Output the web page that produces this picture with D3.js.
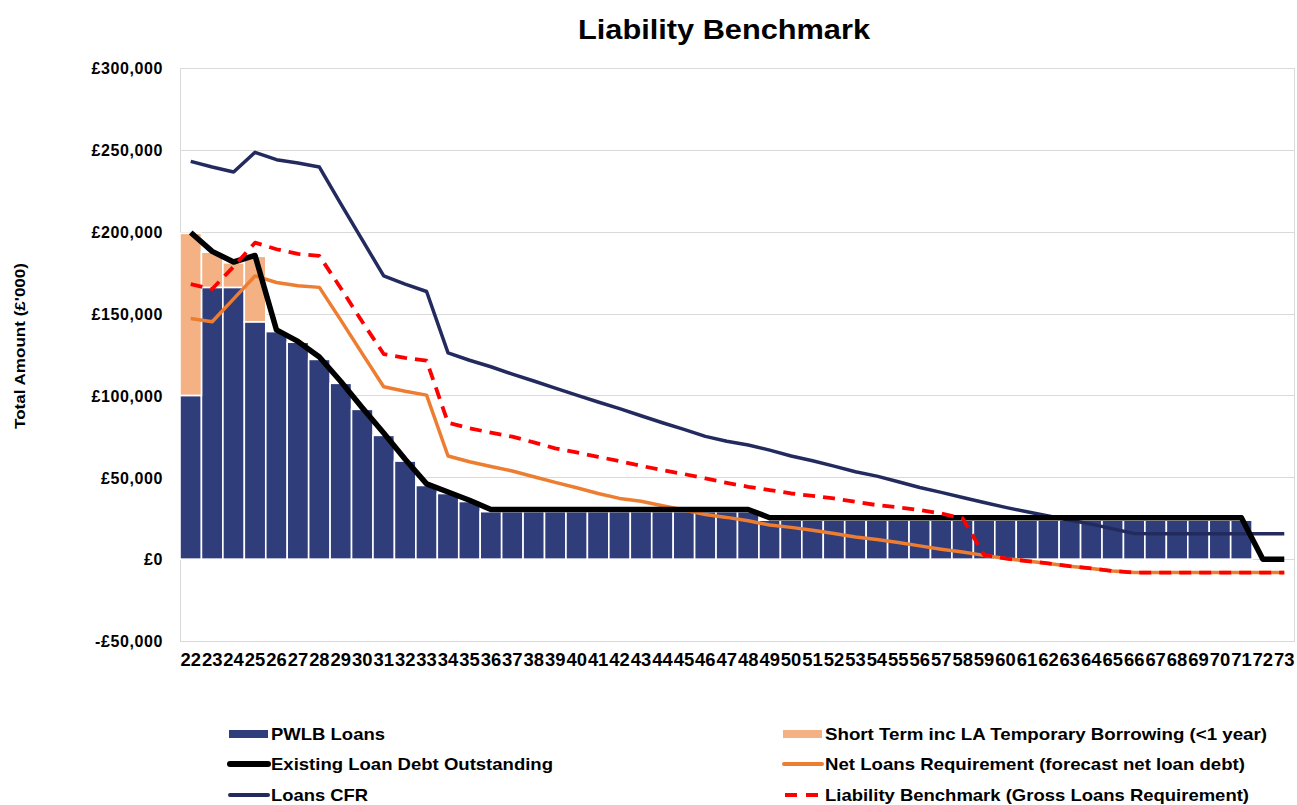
<!DOCTYPE html>
<html>
<head>
<meta charset="utf-8">
<script src="https://cdnjs.cloudflare.com/ajax/libs/d3/7.8.5/d3.min.js"></script>
<style>
  body { margin: 0; background: #fff; }
  svg text { font-family: "Liberation Sans", Arial, sans-serif; font-weight: bold; fill: #000; }
</style>
</head>
<body>
<svg id="chart" width="1297" height="805"></svg>
<script>
// categories (financial years)
var years = ['22','23','24','25','26','27','28','29','30','31','32','33','34','35','36','37','38','39','40','41','42','43','44','45','46','47',
  '48','49','50','51','52','53','54','55','56','57','58','59','60','61','62','63','64','65','66','67','68','69','70','71','72','73'];

// bars (£'000)
var pwlbLoans = [100000,166000,166000,145000,139000,132500,122000,107400,91500,75600,59900,45000,40100,35200,29000,29000,29000,29000,29000,29000,
  29000,29000,29000,29000,29000,29000,29000,23800,23800,23800,23800,23800,23800,23800,23800,23800,23800,23800,23800,23800,23800,23800,23800,
  23800,23800,23800,23800,23800,23800,23800,0,0];
var shortTerm = [99000,21500,15000,40000,0,0,0,0,0,0,0,0,0,0,0,0,0,0,0,0,0,0,0,0,0,0,0,0,0,0,0,0,0,0,0,0,0,0,0,0,0,0,0,0,0,0,0,0,0,0,0,0];

// lines (£'000)
var existingDebt = [199500,188000,181500,185500,140000,133000,123500,108500,92500,77000,61000,46000,41000,36000,30300,30300,30300,30300,30300,
  30300,30300,30300,30300,30300,30300,30300,30300,25300,25300,25300,25300,25300,25300,25300,25300,25300,25300,25300,25300,25300,25300,25300,
  25300,25300,25300,25300,25300,25300,25300,25300,0,0];
var netLoans = [147000,145000,159000,173000,169000,167000,166000,146000,125500,105300,102500,100200,63000,59500,56600,53800,50300,46900,43600,
  40100,37100,35400,32600,30000,27300,25500,23400,20800,19400,17700,15700,13500,12000,10200,8100,6100,4300,2300,400,-1200,-2600,-4300,-5700,
  -7200,-8200,-8200,-8200,-8200,-8200,-8200,-8200,-8200];
var loansCFR = [243000,239500,236500,248500,244000,242000,239500,217000,195000,173000,168000,163500,126000,121500,117500,113000,108800,104500,
  100200,96000,91900,87600,83300,79300,75000,72000,69700,66600,63000,60100,56800,53400,50700,47300,43800,40800,37700,34600,31600,28900,26300,
  23800,21400,18500,15700,15500,15500,15500,15500,15500,15500,15500];
var liabilityBenchmark = [168000,165000,178700,193300,189300,186400,185200,165500,145000,125300,123000,121200,83300,79900,77300,74800,71300,
  67700,65200,62500,59900,57000,54400,52000,49300,46600,44200,42200,40100,38700,37100,35000,33000,31600,30000,27900,24900,2500,400,-1200,
  -2600,-4300,-5700,-7200,-8200,-8200,-8200,-8200,-8200,-8200,-8200,-8200];

var yTicks = [-50000, 0, 50000, 100000, 150000, 200000, 250000, 300000];

var svg = d3.select('#chart'),
  plotL = 180, plotR = 1295, plotT = 68, plotB = 641;

var x = d3.scaleBand().domain(years).range([plotL, plotR]).padding(0);
var y = d3.scaleLinear().domain([-50000, 300000]).range([plotB, plotT]);
var fmt = function (v) { return (v < 0 ? '-£' : '£') + d3.format(',')(Math.abs(v)); };

// title
svg.append('text').attr('x', 724).attr('y', 39).attr('text-anchor', 'middle')
  .style('font-size', '28px').attr('textLength', 292).attr('lengthAdjust', 'spacingAndGlyphs')
  .text('Liability Benchmark');

// gridlines + frame
svg.append('g').selectAll('line').data(yTicks).join('line')
  .attr('x1', plotL).attr('x2', plotR).attr('y1', function (d) { return Math.round(y(d)) + 0.5; }).attr('y2', function (d) { return Math.round(y(d)) + 0.5; })
  .attr('stroke', '#d9d9d9').attr('stroke-width', 1);
svg.append('rect').attr('x', plotL + 0.5).attr('y', plotT + 0.5).attr('width', plotR - plotL - 1).attr('height', plotB - plotT)
  .attr('fill', 'none').attr('stroke', '#d9d9d9');

// y axis
var yAxis = svg.append('g').attr('transform', 'translate(163,0)')
  .call(d3.axisLeft(y).tickValues(yTicks).tickFormat(fmt).tickSize(0).tickPadding(0));
yAxis.select('.domain').remove();
yAxis.selectAll('text').style('font-size', '16px').attr('dy', '0.36em').style('letter-spacing', '0.6px');

svg.append('text').attr('transform', 'translate(25,346) rotate(-90)').attr('text-anchor', 'middle')
  .style('font-size', '14px').attr('textLength', 166).attr('lengthAdjust', 'spacingAndGlyphs')
  .text("Total Amount (£'000)");

// x axis
var xAxis = svg.append('g').attr('transform', 'translate(0,' + plotB + ')')
  .call(d3.axisBottom(x).tickSize(0).tickPadding(13));
xAxis.select('.domain').remove();
xAxis.selectAll('text').style('font-size', '17.5px').attr('textLength', 20.5).attr('lengthAdjust', 'spacingAndGlyphs');

// stacked bars
var stack = d3.stack().keys(['pwlb', 'st'])(years.map(function (yr, i) {
  return { year: yr, pwlb: pwlbLoans[i], st: shortTerm[i] };
}));
var barColors = ['#2f3d7b', '#f4b183'];
svg.append('g').selectAll('g').data(stack).join('g').attr('fill', function (d, i) { return barColors[i]; })
  .selectAll('rect').data(function (d) { return d.filter(function (p) { return p[1] > p[0]; }); }).join('rect')
  .attr('x', function (d) { return x(d.data.year); })
  .attr('width', x.bandwidth())
  .attr('y', function (d) { return y(d[1]); })
  .attr('height', function (d) { return y(d[0]) - y(d[1]); })
  .attr('stroke', '#fff').attr('stroke-width', 1.6);

// lines
var line = function (vals) {
  return d3.line().x(function (d, i) { return x(years[i]) + x.bandwidth() / 2; }).y(function (d) { return y(d); })(vals);
};
var series = [
  { vals: netLoans, color: '#ed7d31', w: 3.5, dash: null },
  { vals: loansCFR, color: '#232b5e', w: 3.5, dash: null },
  { vals: existingDebt, color: '#000', w: 5.5, dash: null },
  { vals: liabilityBenchmark, color: '#ff0000', w: 3.8, dash: '12,8' }
];
svg.append('g').selectAll('path').data(series).join('path')
  .attr('d', function (s) { return line(s.vals); })
  .attr('fill', 'none').attr('stroke', function (s) { return s.color; })
  .attr('stroke-width', function (s) { return s.w; })
  .attr('stroke-dasharray', function (s) { return s.dash; })
  .attr('stroke-linejoin', 'round');

// legend
var legend = [
  { label: 'PWLB Loans', type: 'rect', color: '#2f3d7b', x: 229, y: 734, len: 114 },
  { label: 'Short Term inc LA Temporary Borrowing (<1 year)', type: 'rect', color: '#f4b183', x: 783, y: 734, len: 442 },
  { label: 'Existing Loan Debt Outstanding', type: 'line', color: '#000', w: 6, x: 229, y: 764, len: 282 },
  { label: 'Net Loans Requirement (forecast net loan debt)', type: 'line', color: '#ed7d31', w: 4, x: 783, y: 764, len: 420 },
  { label: 'Loans CFR', type: 'line', color: '#232b5e', w: 4, x: 229, y: 795, len: 97 },
  { label: 'Liability Benchmark (Gross Loans Requirement)', type: 'dash', color: '#ff0000', w: 4, x: 783, y: 795, len: 424 }
];
var lg = svg.append('g').selectAll('g').data(legend).join('g')
  .attr('transform', function (d) { return 'translate(' + d.x + ',' + d.y + ')'; });
lg.filter(function (d) { return d.type === 'rect'; }).append('rect')
  .attr('x', 0).attr('y', -4).attr('width', 39).attr('height', 8).attr('fill', function (d) { return d.color; });
lg.filter(function (d) { return d.type !== 'rect'; }).append('line')
  .attr('x1', function (d) { return d.type === 'dash' ? 2 : 1; }).attr('x2', 39).attr('y1', 0).attr('y2', 0)
  .attr('stroke', function (d) { return d.color; }).attr('stroke-width', function (d) { return d.w; })
  .attr('stroke-linecap', function (d) { return d.type === 'dash' ? 'butt' : 'round'; })
  .attr('stroke-dasharray', function (d) { return d.type === 'dash' ? '12,9' : null; });
lg.append('text').attr('x', 42).attr('y', 6).style('font-size', '17px')
  .attr('textLength', function (d) { return d.len; }).attr('lengthAdjust', 'spacingAndGlyphs')
  .text(function (d) { return d.label; });
</script>
</body>
</html>
